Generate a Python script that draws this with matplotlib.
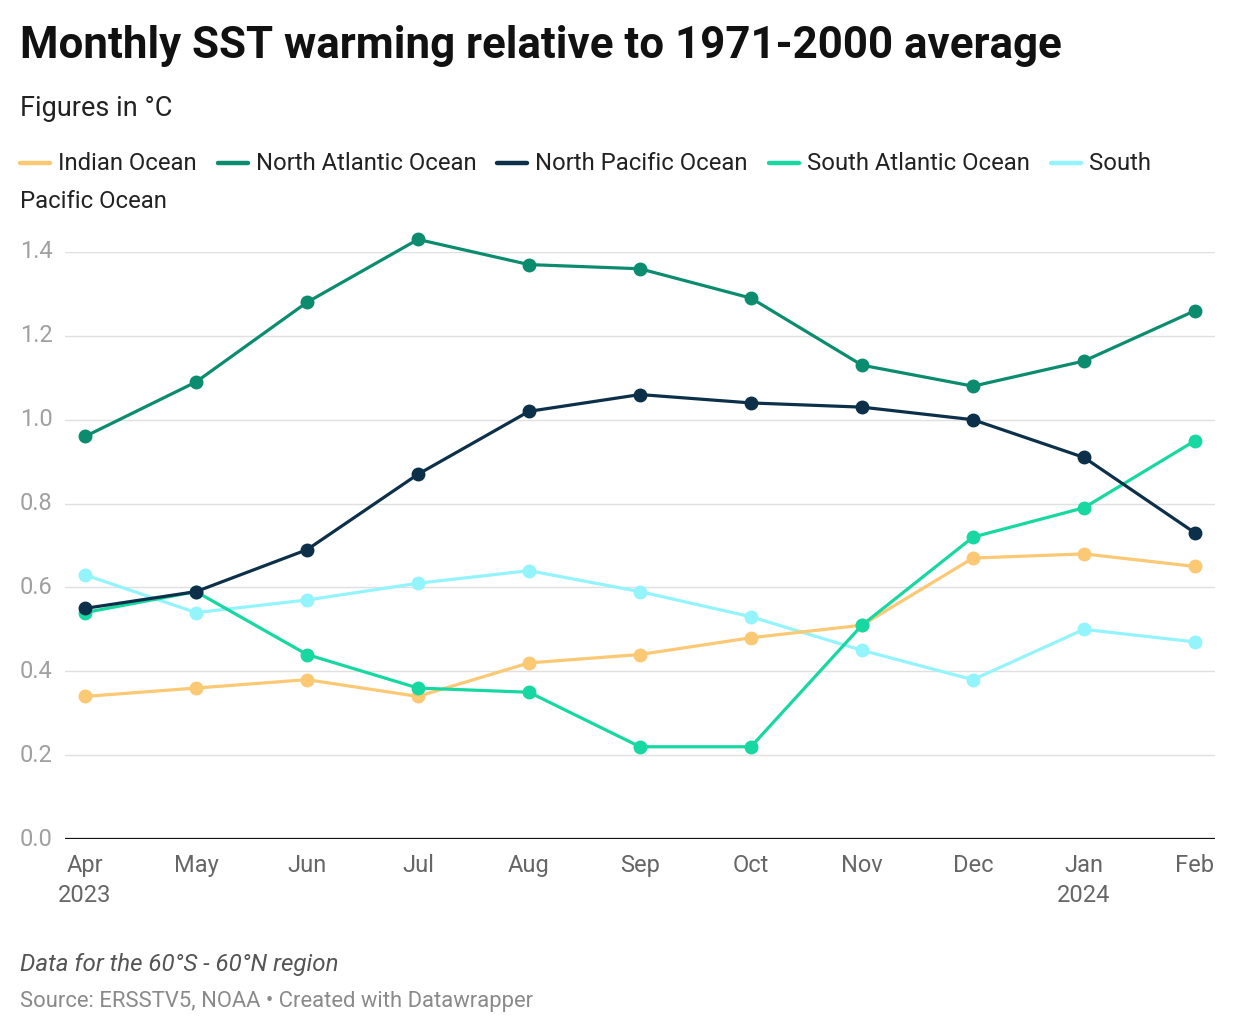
import matplotlib
matplotlib.use('Agg')
import matplotlib.pyplot as plt

plt.rcParams['font.family'] = ['Roboto', 'DejaVu Sans']

months = ['Apr', 'May', 'Jun', 'Jul', 'Aug', 'Sep', 'Oct', 'Nov', 'Dec', 'Jan', 'Feb']
years = {0: '2023', 9: '2024'}
yticks = [0.0, 0.2, 0.4, 0.6, 0.8, 1.0, 1.2, 1.4]

indian = [0.34, 0.36, 0.38, 0.34, 0.42, 0.44, 0.48, 0.51, 0.67, 0.68, 0.65]
north_atlantic = [0.96, 1.09, 1.28, 1.43, 1.37, 1.36, 1.29, 1.13, 1.08, 1.14, 1.26]
north_pacific = [0.55, 0.59, 0.69, 0.87, 1.02, 1.06, 1.04, 1.03, 1.00, 0.91, 0.73]
south_atlantic = [0.54, 0.59, 0.44, 0.36, 0.35, 0.22, 0.22, 0.51, 0.72, 0.79, 0.95]
south_pacific = [0.63, 0.54, 0.57, 0.61, 0.64, 0.59, 0.53, 0.45, 0.38, 0.50, 0.47]

series = [
    ('Indian Ocean', indian, '#fbc874', 2),
    ('North Atlantic Ocean', north_atlantic, '#0b8c6e', 5),
    ('North Pacific Ocean', north_pacific, '#0c3049', 4),
    ('South Atlantic Ocean', south_atlantic, '#17d8a0', 3),
    ('South Pacific Ocean', south_pacific, '#93f4fb', 1),
]

W, H = 1240, 1034
fig = plt.figure(figsize=(W / 100, H / 100), dpi=100)
fig.patch.set_facecolor('white')

# axes placed in pixel terms
left, right, top, bottom = 65, 1215, 252, 839
ax = fig.add_axes([left / W, 1 - bottom / H, (right - left) / W, (bottom - top) / H])

x = list(range(len(months)))
for name, vals, color, z in series:
    ax.plot(x, vals, color=color, lw=2.3, marker='o', ms=9,
            zorder=z + 2, clip_on=False, solid_capstyle='round')

pad = 20 / 111
ax.set_xlim(-pad, len(months) - 1 + pad)
ax.set_ylim(0, 1.4)

for s in ax.spines.values():
    s.set_visible(False)
ax.axhline(0, color='#111111', lw=1.6, zorder=10)
for t in yticks[1:]:
    ax.axhline(t, color='#e0e0e0', lw=1, zorder=1)

ax.set_xticks([])
ax.set_yticks([])

# y labels, left aligned at fig x=20
ylab_x = (20 - left) / (right - left)
for t in yticks:
    ax.text(ylab_x, t, f'{t:.1f}', transform=ax.get_yaxis_transform(),
            ha='left', va='center', fontsize=17, color='#a0a0a0')

for i, m in enumerate(months):
    ax.text(i, -0.064, m, ha='center', va='center', fontsize=17, color='#666666')
    if i in years:
        ax.text(i, -0.134, years[i], ha='center', va='center', fontsize=17, color='#666666')

# titles
fig.text(20 / W, 1 - 46 / H, 'Monthly SST warming relative to 1971-2000 average',
         fontsize=31.6, fontweight='bold', color='#111111', ha='left', va='center')
fig.text(20 / W, 1 - 108 / H, 'Figures in °C', fontsize=19.5, color='#222222',
         ha='left', va='center')

# legend laid out as flowing items
fig.canvas.draw()
renderer = fig.canvas.get_renderer()
lx = 20
ly = 163
for name, vals, color, z in series:
    fig.add_artist(plt.Line2D([lx / W, (lx + 30) / W], [1 - ly / H, 1 - ly / H],
                              color=color, lw=3.2, solid_capstyle='round',
                              transform=fig.transFigure))
    label = name
    if name == 'South Pacific Ocean':
        label = 'South'
    t = fig.text((lx + 38) / W, 1 - ly / H, label, fontsize=17.2, color='#222222',
                 ha='left', va='center')
    bb = t.get_window_extent(renderer)
    lx = lx + 38 + bb.width + 21
fig.text(20 / W, 1 - 201 / H, 'Pacific Ocean', fontsize=17.2, color='#222222',
         ha='left', va='center')

# footer
fig.text(20 / W, 1 - 965 / H, 'Data for the 60°S - 60°N region', fontsize=17.4,
         style='italic', color='#555555', ha='left', va='center')
fig.text(20 / W, 1 - 1001 / H, 'Source: ERSSTV5, NOAA • Created with Datawrapper',
         fontsize=15.8, color='#8a8a8a', ha='left', va='center')

fig.savefig('out.png', dpi=100, facecolor='white')
